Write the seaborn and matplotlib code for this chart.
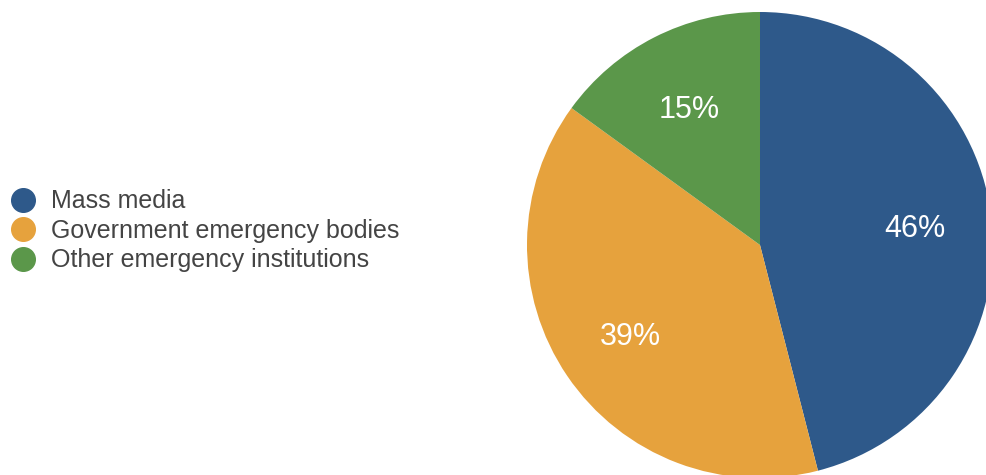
import matplotlib
matplotlib.use("Agg")
import matplotlib.pyplot as plt
from matplotlib.lines import Line2D
from matplotlib.transforms import offset_copy
import seaborn as sns

categories = ["Mass media", "Government emergency bodies", "Other emergency institutions"]
shares = [46, 39, 15]
colors = ["#2E598A", "#E6A23D", "#5B974A"]

sns.set_theme(style="white")
plt.rcParams["font.family"] = ["Liberation Sans", "DejaVu Sans"]

W, H = 987, 475
fig = plt.figure(figsize=(W / 100, H / 100), dpi=100)
cx, cy, r = 760, 245, 233
ax = fig.add_axes([(cx - r) / W, (H - cy - r) / H, 2 * r / W, 2 * r / H])

wedges, texts = ax.pie(
    shares,
    colors=colors,
    startangle=90,
    counterclock=False,
    radius=1.0,
    labels=[f"{v}%" for v in shares],
    labeldistance=0.67,
    wedgeprops=dict(linewidth=0),
    textprops=dict(color="white", fontsize=22),
)
for t in texts:
    t.set_ha("center")
    t.set_va("center")
    t.set_transform(offset_copy(ax.transData, fig=fig, x=0, y=-4, units="dots"))
ax.set_xlim(-1, 1)
ax.set_ylim(-1, 1)
ax.set_aspect("equal")
ax.axis("off")

handles = [
    Line2D([], [], marker="o", linestyle="none", markersize=17,
           markerfacecolor=c, markeredgecolor=c)
    for c in colors
]
fig.legend(
    handles, categories,
    loc="center left", bbox_to_anchor=(0.0, (H - 231) / H),
    frameon=False, fontsize=18, labelcolor="#444444",
    handlelength=1.0, handletextpad=0.62, labelspacing=0.22,
    borderaxespad=0, borderpad=0.42,
)

fig.savefig("out.png", dpi=100)
